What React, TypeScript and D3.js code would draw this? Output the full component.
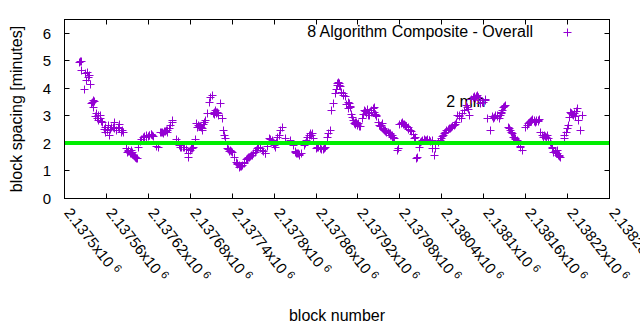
import React from 'react';
import * as d3 from 'd3';

const firstBlock = 2137500;
const lastBlock = 2138280;
const xTickStep = 60;
const xTickMantissas = [
  '2.1375', '2.13756', '2.13762', '2.13768', '2.13774', '2.1378', '2.13786',
  '2.13792', '2.13798', '2.13804', '2.1381', '2.13816', '2.13822', '2.13828',
];
const xTickExponent = '6';
const yTicks = [0, 1, 2, 3, 4, 5, 6];
const yMax = 6.5;
const targetSpacing = 2;
const seriesName = '8 Algorithm Composite - Overall';
const targetLabel = '2 min';
const targetLabelAt: [number, number] = [2138047, 3.32];

// [block offset from firstBlock, block spacing in minutes]
const spacingPoints: [number, number][] = [
  [23,4.96],[25,4.63],[28,3.95],[31,4.29],[33,4.59],[36,4.47],[37,4.15],[40,3.50],[41,3.56],[42,3.30],[44,2.96],[46,3.08],[48,2.84],[51,3.02],[52,2.90],[54,2.77],[57,2.50],[58,2.41],[59,2.57],[62,2.47],[63,2.65],[64,2.29],[66,2.50],[67,2.59],[70,2.57],[71,2.77],[72,2.53],[75,2.47],[77,2.59],[78,2.53],[79,2.69],[82,2.41],[83,2.47],[84,2.41],[89,1.81],[90,1.68],[91,1.75],[94,1.68],[95,1.62],[96,1.75],[98,1.60],[100,1.53],[102,1.50],[103,1.44],[106,1.84],[109,2.08],[110,2.13],[113,2.21],[115,2.21],[117,2.23],[120,2.25],[121,2.29],[124,2.33],[125,2.33],[127,2.25],[132,1.89],[134,1.87],[138,2.41],[140,2.41],[141,2.35],[144,2.45],[146,2.47],[148,2.47],[151,2.65],[154,2.77],[155,2.84],[160,2.13],[163,2.08],[165,1.93],[166,1.87],[170,1.84],[172,1.84],[177,1.62],[178,1.48],[182,1.81],[184,1.84],[187,2.13],[189,2.74],[191,2.59],[192,2.65],[195,2.62],[196,2.59],[197,2.53],[198,2.47],[200,2.77],[202,2.84],[205,3.08],[207,3.50],[209,3.68],[212,3.75],[214,3.14],[216,3.20],[217,3.08],[219,3.14],[220,3.08],[221,3.02],[223,3.44],[226,2.90],[228,2.47],[229,2.29],[231,2.17],[233,1.81],[237,1.75],[239,1.72],[240,1.68],[244,1.50],[247,1.26],[250,1.20],[251,1.14],[255,1.20],[257,1.26],[258,1.32],[262,1.44],[264,1.50],[266,1.53],[269,1.56],[271,1.62],[275,1.75],[278,1.87],[283,1.75],[288,1.62],[293,2.17],[295,2.13],[297,2.11],[301,1.93],[302,1.87],[307,2.29],[309,2.47],[312,2.59],[316,2.17],[324,2.11],[328,1.93],[331,1.68],[333,1.62],[335,1.62],[337,1.56],[343,1.93],[347,2.11],[350,2.29],[352,2.35],[355,2.35],[357,2.17],[362,1.87],[364,1.87],[366,1.81],[370,1.77],[372,1.81],[376,2.23],[378,2.35],[380,2.47],[382,3.20],[385,3.44],[388,3.81],[391,4.17],[393,4.17],[394,4.10],[399,3.81],[400,3.75],[406,3.26],[407,3.50],[408,3.44],[409,3.32],[413,2.84],[415,2.72],[418,2.77],[419,2.70],[420,2.65],[424,2.60],[430,3.20],[431,3.15],[435,3.02],[437,3.00],[439,3.14],[442,3.26],[443,3.32],[446,3.02],[447,2.96],[451,2.65],[455,2.72],[456,2.53],[458,2.47],[459,2.47],[461,2.41],[465,2.35],[466,2.35],[468,2.29],[470,2.23],[473,2.17],[477,1.75],[478,1.81],[482,2.72],[485,2.69],[488,2.65],[489,2.62],[492,2.57],[495,2.47],[501,2.17],[502,2.23],[504,1.44],[505,1.50],[508,1.87],[509,2.05],[513,2.11],[515,2.13],[516,2.11],[520,2.13],[523,2.11],[526,2.11],[527,1.81],[530,1.56],[531,1.81],[538,2.11],[539,2.17],[544,2.35],[546,2.41],[547,2.47],[551,2.53],[554,2.59],[558,2.65],[561,2.77],[563,3.02],[566,2.96],[568,2.90],[575,3.38],[577,3.32],[580,3.02],[585,3.68],[588,3.62],[591,3.75],[593,3.68],[595,3.44],[598,3.50],[602,3.56],[605,2.90],[610,2.47],[612,2.96],[614,2.90],[617,3.02],[619,2.96],[622,2.90],[624,3.02],[626,3.14],[629,3.32],[631,3.38],[636,2.59],[638,2.47],[641,2.35],[643,2.23],[645,2.17],[648,2.11],[653,1.87],[655,1.75],[660,2.59],[665,2.77],[667,2.81],[669,2.84],[672,2.84],[674,2.77],[676,2.81],[679,2.84],[681,2.41],[686,2.23],[689,2.25],[691,2.29],[693,2.17],[698,1.87],[700,1.68],[703,1.68],[705,1.75],[707,1.56],[710,1.50],[715,2.17],[718,2.41],[722,2.65],[724,3.14],[726,3.08],[729,3.02],[731,2.96],[734,3.26],[736,2.84],[738,2.47],[741,3.02],
  [22,4.93],[24,4.98],[30,4.55],[34,4.40],[39,3.45],[43,3.52],[47,2.92],[49,3.00],[53,2.80],[92,1.72],[97,1.66],[99,1.56],[101,1.48],[104,1.46],[114,2.25],[118,2.28],[122,2.30],[126,2.27],[139,2.38],[143,2.43],[147,2.40],[150,2.55],[167,1.85],[174,1.78],[180,1.75],[183,1.83],
  [193,2.60],[199,2.70],[213,3.10],[215,3.05],[218,3.12],[234,1.78],[236,1.72],[246,1.30],[248,1.22],[252,1.16],[254,1.18],[260,1.40],[265,1.50],[268,1.55],[273,1.66],[276,1.80],[280,1.83],[285,1.70],[287,1.65],[290,1.90],[299,2.00],[304,2.05],[305,2.20],[330,1.70],[332,1.65],[336,1.60],[339,1.62],[345,2.00],[348,2.20],[353,2.30],[360,1.82],[368,1.78],[374,1.85],
  [389,3.95],[390,4.10],[392,4.22],[395,4.05],[397,3.85],[402,3.70],[404,3.40],[410,3.35],[411,3.05],[412,2.95],[416,2.75],[417,2.68],[421,2.72],[422,2.62],[427,2.90],[428,3.05],[432,3.10],[433,3.25],[436,3.10],[440,3.20],[444,3.12],[445,3.05],
  [449,2.75],[452,2.60],[453,2.65],[457,2.50],[460,2.45],[463,2.38],[467,2.30],[469,2.28],[471,2.20],[480,2.70],[484,2.75],[486,2.68],[490,2.60],[493,2.52],[497,2.42],[499,2.33],[511,2.08],[518,2.10],[522,2.12],[524,2.08],
  [535,2.05],[541,2.25],[543,2.30],[549,2.50],[552,2.55],[556,2.62],[560,2.70],[565,3.00],[570,3.10],[572,3.20],[578,3.25],[583,3.60],[587,3.70],[589,3.72],[592,3.65],[596,3.55],[600,3.50],[603,3.60],
  [615,2.95],[620,3.00],[625,3.08],[627,3.20],[630,3.35],[637,2.55],[640,2.40],[644,2.20],[646,2.15],[650,2.00],[652,1.90],[662,2.65],[664,2.72],[668,2.80],[670,2.88],[673,2.80],[675,2.85],[678,2.78],[680,2.88],
  [684,2.30],[687,2.28],[690,2.20],[695,2.05],[697,1.95],[699,1.80],[702,1.72],[704,1.62],[706,1.65],[708,1.55],[709,1.52],[716,2.30],[720,2.55],[723,2.95],[725,3.10],[727,3.05],[730,3.10],[733,3.15],
];

const W = 640;
const H = 330;
const M = { left: 64, right: 31, top: 19, bottom: 132 };
const FONT = '"Liberation Sans", Arial, sans-serif';
const PURPLE = '#9400d3';
const GREEN = '#00ee00';

function Plus({ cx, cy, r }: { cx: number; cy: number; r: number }) {
  const x = Math.round(cx) + 0.5;
  const y = Math.round(cy) + 0.5;
  return (
    <path
      d={`M${x - r},${y}H${x + r}M${x},${y - r}V${y + r}`}
      stroke={PURPLE}
      strokeWidth={1}
      fill="none"
    />
  );
}

export default function App() {
  const x = d3.scaleLinear().domain([firstBlock, lastBlock]).range([M.left, W - M.right]);
  const y = d3.scaleLinear().domain([0, yMax]).range([H - M.bottom, M.top]);
  const xTicks = d3.range(firstBlock, lastBlock + 1, xTickStep);
  const left = M.left + 0.5;
  const right = W - M.right + 0.5;
  const top = M.top + 0.5;
  const bottom = H - M.bottom + 0.5;
  const tl = 5;

  return (
    <svg
      width={W}
      height={H}
      style={{ position: 'absolute', left: 0, top: 0, background: '#fff' }}
      fontFamily={FONT}
    >
      <rect width={W} height={H} fill="#fff" />
      {yTicks.map((t) => {
        const yy = Math.round(y(t)) + 0.5;
        return (
          <g key={'y' + t}>
            <path d={`M${left},${yy}h${tl}M${right},${yy}h${-tl}`} stroke="#000" strokeWidth={1} />
            <text x={51} y={yy + 5.5} textAnchor="end" fontSize={15} fill="#000">
              {t}
            </text>
          </g>
        );
      })}
      {xTicks.map((t, i) => {
        const xx = Math.round(x(t)) + 0.5;
        return (
          <g key={'x' + t}>
            <path d={`M${xx},${bottom}v${-tl}M${xx},${top}v${tl}`} stroke="#000" strokeWidth={1} />
            <text transform={`translate(${xx - 1},${213}) rotate(52)`} fontSize={15} fill="#000">
              {xTickMantissas[i] + 'x10'}
              <tspan dx={4} dy={-5} fontSize={11}>
                {xTickExponent}
              </tspan>
            </text>
          </g>
        );
      })}
      <text x={x(targetLabelAt[0])} y={y(targetLabelAt[1])} fontSize={16} fill="#000">
        {targetLabel}
      </text>
      {spacingPoints.map(([b, v], i) => (
        <Plus key={i} cx={x(firstBlock + b)} cy={y(v)} r={4} />
      ))}
      <line
        x1={left}
        x2={right}
        y1={y(targetSpacing)}
        y2={y(targetSpacing)}
        stroke={GREEN}
        strokeWidth={4}
      />
      <rect x={left} y={top} width={right - left} height={bottom - top} fill="none" stroke="#000" strokeWidth={1} />
      <text x={533} y={37} textAnchor="end" fontSize={16} fill="#000">
        {seriesName}
      </text>
      <Plus cx={567} cy={32} r={4} />
      <text
        transform={`translate(${22},${(top + bottom) / 2}) rotate(-90)`}
        textAnchor="middle"
        fontSize={16}
        fill="#000"
      >
        block spacing [minutes]
      </text>
      <text x={(left + right) / 2} y={321} textAnchor="middle" fontSize={16} fill="#000">
        block number
      </text>
    </svg>
  );
}
